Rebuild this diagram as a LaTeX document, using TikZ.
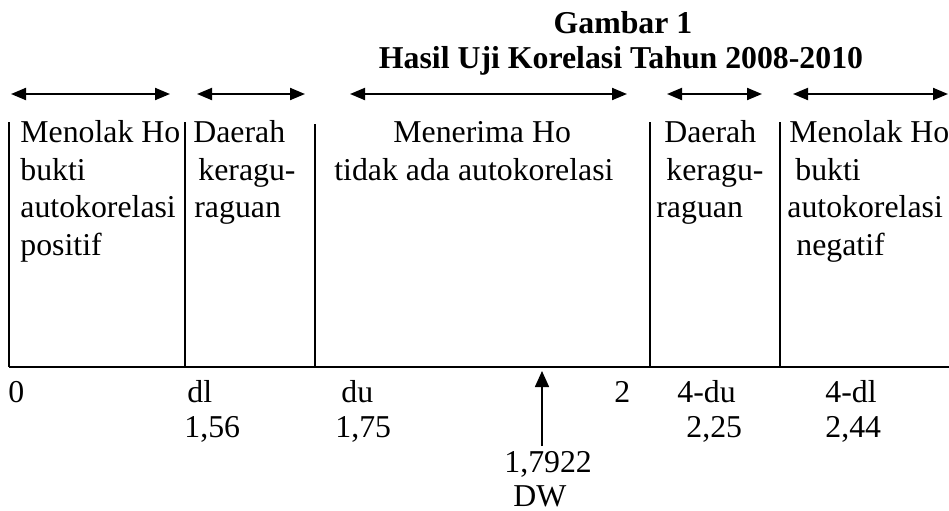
\documentclass[tikz,border=0pt]{standalone}
\usepackage{fontspec}
\setmainfont{Liberation Serif}
\usetikzlibrary{arrows.meta}
\tikzset{
  txt/.style={inner sep=0pt, anchor=base west, font=\fontsize{15.9}{18}\selectfont},
  ttl/.style={inner sep=0pt, anchor=base, font=\fontsize{15.9}{18}\selectfont\bfseries},
  span/.style={line width=1pt, {Triangle[length=7.5pt,width=6pt]}-{Triangle[length=7.5pt,width=6pt]}},
  sep/.style={line width=0.9pt},
  axis/.style={line width=1.4pt},
  dwarrow/.style={line width=0.8pt, -{Triangle[length=8pt,width=7pt]}}
}
\begin{document}
\begin{tikzpicture}[x=0.5pt,y=-0.5pt]
\useasboundingbox (0,0) rectangle (949,510);
% title
\node[ttl] (t1) at (623,33) {Gambar 1};
\node[ttl] (t2) at (621,68) {Hasil Uji Korelasi Tahun 2008-2010};
% span arrows
\coordinate (a1l) at (11,94);  \coordinate (a1r) at (170,94);
\coordinate (a2l) at (197,94); \coordinate (a2r) at (305,94);
\coordinate (a3l) at (350,94); \coordinate (a3r) at (627,94);
\coordinate (a4l) at (667,94); \coordinate (a4r) at (762,94);
\coordinate (a5l) at (793,94); \coordinate (a5r) at (948,94);
\draw[span] (a1l) -- (a1r);
\draw[span] (a2l) -- (a2r);
\draw[span] (a3l) -- (a3r);
\draw[span] (a4l) -- (a4r);
\draw[span] (a5l) -- (a5r);
% separators
\coordinate (s1t) at (9,122);   \coordinate (s1b) at (9,367);
\coordinate (s2t) at (185,122); \coordinate (s2b) at (185,367);
\coordinate (s3t) at (315,124); \coordinate (s3b) at (315,367);
\coordinate (s4t) at (650,122); \coordinate (s4b) at (650,367);
\coordinate (s5t) at (780,122); \coordinate (s5b) at (780,367);
\draw[sep] (s1t) -- (s1b);
\draw[sep] (s2t) -- (s2b);
\draw[sep] (s3t) -- (s3b);
\draw[sep] (s4t) -- (s4b);
\draw[sep] (s5t) -- (s5b);
% axis
\coordinate (ax0) at (9,367); \coordinate (ax1) at (949,367);
\draw[axis] (ax0) -- (ax1);
% column 1
\node[txt] (c1a) at (20,142) {Menolak Ho};
\node[txt] (c1b) at (20,180) {bukti};
\node[txt] (c1c) at (20,217) {autokorelasi};
\node[txt] (c1d) at (20,255) {positif};
% column 2
\node[txt] (c2a) at (193,142) {Daerah};
\node[txt] (c2b) at (198,180) {keragu-};
\node[txt] (c2c) at (194,217) {raguan};
% column 3
\node[txt] (c3a) at (393,142) {Menerima Ho};
\node[txt] (c3b) at (334,180) {tidak ada autokorelasi};
% column 4
\node[txt] (c4a) at (664,142) {Daerah};
\node[txt] (c4b) at (666,180) {keragu-};
\node[txt] (c4c) at (656,217) {raguan};
% column 5
\node[txt] (c5a) at (789,142) {Menolak Ho};
\node[txt] (c5b) at (795,180) {bukti};
\node[txt] (c5c) at (787,217) {autokorelasi};
\node[txt] (c5d) at (796,255) {negatif};
% bottom labels
\node[txt] (b0) at (8,402) {0};
\node[txt] (bdl) at (187,402) {dl};
\node[txt] (bdu) at (341,402) {du};
\node[txt] (b2) at (614,402) {2};
\node[txt] (b4du) at (677,402) {4-du};
\node[txt] (b4dl) at (825,402) {4-dl};
\node[txt] (v1) at (184,437) {1,56};
\node[txt] (v2) at (335,437) {1,75};
\node[txt] (v3) at (686,437) {2,25};
\node[txt] (v4) at (825,437) {2,44};
\node[txt] (dwv) at (504,472) {1,7922};
\node[txt, text depth=0pt] (dw) at (513,506) {DW};
% DW arrow
\coordinate (dwbot) at (542,446);
\coordinate (dwtop) at (542,371);
\draw[dwarrow] (dwbot) -- (dwtop);
\end{tikzpicture}
\end{document}
